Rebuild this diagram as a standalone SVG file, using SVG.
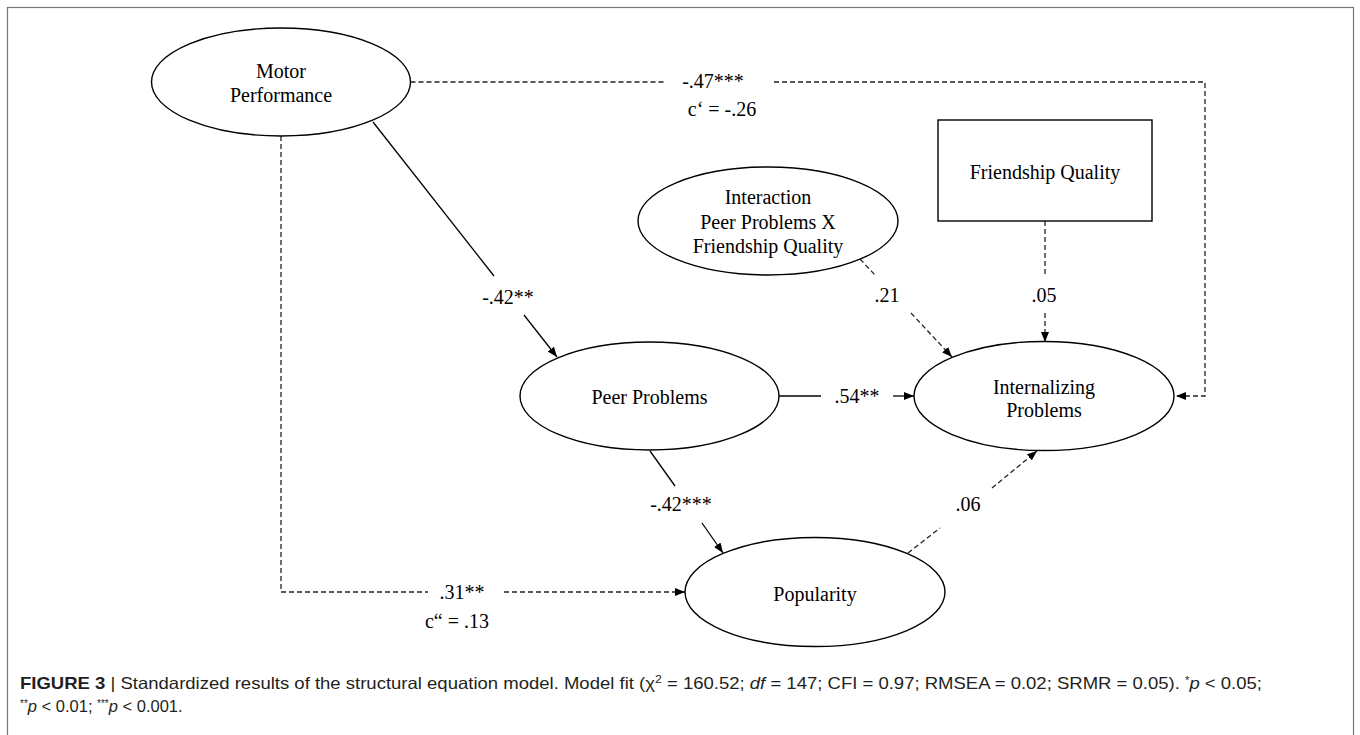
<svg xmlns="http://www.w3.org/2000/svg" width="1360" height="735" viewBox="0 0 1360 735">
<defs>
<marker id="arr" markerUnits="userSpaceOnUse" markerWidth="11" markerHeight="8" refX="10" refY="4" orient="auto">
<path d="M0,0 L10,4 L0,8 z" fill="#000"/>
</marker>
<style>
.node{fill:#fff;stroke:#000;stroke-width:1.4}
.t{font-family:"Liberation Serif","Times New Roman",serif;font-size:20px;fill:#000;text-anchor:middle}
.solid{fill:none;stroke:#000;stroke-width:1.3}
.dash{fill:none;stroke:#222;stroke-width:1.3;stroke-dasharray:5,3}
.cap{font-family:"Liberation Sans Narrow","Liberation Sans",Arial,sans-serif;font-size:16.5px;fill:#231f20}
</style>
</defs>
<rect x="0" y="0" width="1360" height="735" fill="#fff"/>
<rect x="7.5" y="7.5" width="1346" height="740" fill="none" stroke="#777" stroke-width="1.2"/>

<g id="connectors">
<path class="dash" d="M410.5,82 H664"/>
<path class="dash" d="M774,82 H1205 V396 H1176" marker-end="url(#arr)"/>
<path class="dash" d="M281,136 V592 H428"/>
<path class="dash" d="M504,592 H685" marker-end="url(#arr)"/>
<path class="solid" d="M373,122 L494,276"/>
<path class="solid" d="M524,315 L557,357" marker-end="url(#arr)"/>
<path class="solid" d="M779,396 H821"/>
<path class="solid" d="M893,396 H914" marker-end="url(#arr)"/>
<path class="solid" d="M650,451 L675,486"/>
<path class="solid" d="M702,523 L723,553" marker-end="url(#arr)"/>
<path class="dash" d="M860,259 L875,275"/>
<path class="dash" d="M911,313 L952,357" marker-end="url(#arr)"/>
<path class="dash" d="M1045,221 V275"/>
<path class="dash" d="M1045,313 V342" marker-end="url(#arr)"/>
<path class="dash" d="M908,553 L940,528"/>
<path class="dash" d="M992,488 L1037,451" marker-end="url(#arr)"/>
<text class="t" x="713" y="88">-.47***</text>
<text class="t" x="722" y="116">c‘ = -.26</text>
<text class="t" x="508" y="304">-.42**</text>
<text class="t" x="857" y="403">.54**</text>
<text class="t" x="681" y="511">-.42***</text>
<text class="t" x="462" y="599">.31**</text>
<text class="t" x="457" y="628">c“ = .13</text>
<text class="t" x="887" y="302">.21</text>
<text class="t" x="1044" y="302">.05</text>
<text class="t" x="968" y="511">.06</text>
</g>

<g id="motor">
<ellipse class="node" cx="281" cy="82" rx="129.5" ry="54"/>
<text class="t" x="281" y="78">Motor</text>
<text class="t" x="281" y="102">Performance</text>
</g>
<g id="interaction">
<ellipse class="node" cx="768" cy="221" rx="130" ry="54"/>
<text class="t" x="768" y="204">Interaction</text>
<text class="t" x="768" y="229">Peer Problems X</text>
<text class="t" x="768" y="253">Friendship Quality</text>
</g>
<g id="friendship">
<rect class="node" x="938" y="120" width="214" height="101"/>
<text class="t" x="1045" y="179">Friendship Quality</text>
</g>
<g id="peer">
<ellipse class="node" cx="649.5" cy="396" rx="129.5" ry="54"/>
<text class="t" x="649.5" y="404">Peer Problems</text>
</g>
<g id="internalizing">
<ellipse class="node" cx="1044" cy="396" rx="130" ry="54.5"/>
<text class="t" x="1044" y="394">Internalizing</text>
<text class="t" x="1044" y="417">Problems</text>
</g>
<g id="popularity">
<ellipse class="node" cx="815" cy="592" rx="130" ry="54.5"/>
<text class="t" x="815" y="601">Popularity</text>
</g>

<g id="caption">
<text class="cap" x="20" y="689" textLength="1242" lengthAdjust="spacingAndGlyphs"><tspan font-weight="bold">FIGURE 3</tspan> | Standardized results of the structural equation model. Model fit (χ<tspan dy="-6" font-size="11">2</tspan><tspan dy="6"> = 160.52; </tspan><tspan font-style="italic">df</tspan> = 147; CFI = 0.97; RMSEA = 0.02; SRMR = 0.05). <tspan dy="-5" font-size="10">*</tspan><tspan dy="5" font-style="italic">p</tspan> &lt; 0.05;</text>
<text class="cap" x="20" y="712"><tspan dy="-5" font-size="10">**</tspan><tspan dy="5" font-style="italic">p</tspan> &lt; 0.01; <tspan dy="-5" font-size="10">***</tspan><tspan dy="5" font-style="italic">p</tspan> &lt; 0.001.</text>
</g>
</svg>
